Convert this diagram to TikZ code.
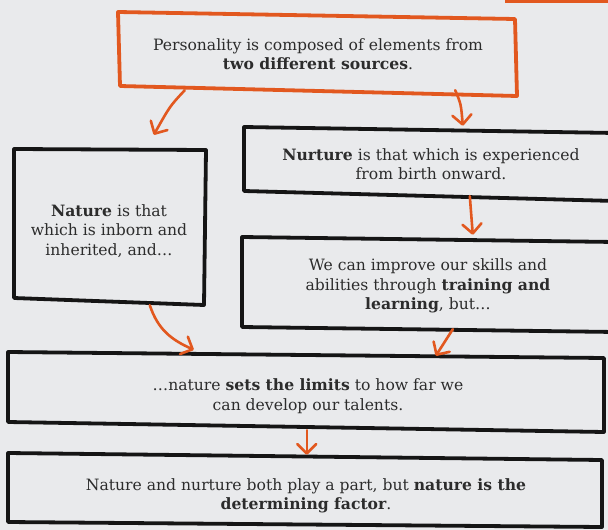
\documentclass[tikz,border=0pt]{standalone}
\usepackage{fontspec}
\setmainfont{DejaVu Serif}
\usetikzlibrary{arrows.meta,calc}
\definecolor{paper}{HTML}{E9EAEC}
\definecolor{orng}{HTML}{E2581F}
\definecolor{ink}{HTML}{151515}
\definecolor{txt}{HTML}{2C2C2C}
\begin{document}
\begin{tikzpicture}[x=1pt,y=-1pt,
  box/.style={draw=none,inner sep=0pt,align=center,text=txt,
    font=\fontsize{15.6}{19.5}\selectfont},
  hand/.style={draw=ink,line width=3.8pt,line join=round},
  handor/.style={draw=orng,line width=3.8pt,line join=round},
  arr/.style={draw=orng,line width=2.6pt,line cap=round,
    -{Straight Barb[length=9.5pt,width=19pt,line cap=round,line join=round]}}]
\fill[paper] (0,0) rectangle (608,530);
\useasboundingbox (0,0) rectangle (608,530);
\fill[orng] (505,0) rectangle (608,3);

% boxes (invisible nodes sized to the drawn frames)
\node[box,minimum width=400pt,minimum height=80pt] (b1) at (318,54)
  {Personality is composed of elements from\\\textbf{two different sources}.};
\node[box,minimum width=192pt,minimum height=154pt] (b2) at (109,231)
  {\textbf{Nature} is that\\which is inborn and\\inherited, and\dots};
\node[box,minimum width=370pt,minimum height=70pt] (b3) at (431,164)
  {\textbf{Nurture} is that which is experienced\\from birth onward.};
\node[box,minimum width=372pt,minimum height=92pt] (b4) at (428,286)
  {We can improve our skills and\\abilities through \textbf{training and}\\\textbf{learning}, but\dots};
\node[box,minimum width=596pt,minimum height=76pt] (b5) at (308,396)
  {\dots nature \textbf{sets the limits} to how far we\\can develop our talents.};
\node[box,minimum width=594pt,minimum height=72pt] (b6) at (306,496)
  {Nature and nurture both play a part, but \textbf{nature is the}\\\textbf{determining factor}.};

% hand-drawn frames
\draw[handor] (118,12) -- (515,19) -- (517,96) -- (120,86) -- cycle;
\draw[hand] (14,149) -- (206,150) -- (204,305) -- (14,298) -- cycle;
\draw[hand] (244,127) -- (615,133) -- (615,201) -- (244,191) -- cycle;
\draw[hand] (242,237) -- (615,242) -- (615,332) -- (242,327) -- cycle;
\draw[hand] (8,352) -- (604,358) -- (604,432) -- (8,422) -- cycle;
\draw[hand] (8,453) -- (602,460) -- (602,527) -- (8,522) -- cycle;

% arrow ends
\coordinate (e1) at ($(b2.north west)+(141,-19)$);
\coordinate (e2) at ($(b3.north west)+(217,-3)$);
\coordinate (e3) at ($(b4.north west)+(231,-5)$);
\coordinate (e4) at ($(b5.north west)+(184,-8)$);
\coordinate (e5) at ($(b5.north west)+(426,-2)$);
\coordinate (e6) at ($(b6.north west)+(298,-5)$);

\draw[arr] ($(b1.south west)+(67,-4)$) .. controls (170,106) .. (e1);
\draw[arr] ($(b1.south east)+(-63,-4)$) .. controls (461,104) .. (e2);
\draw[arr] ($(b3.south west)+(224,-3)$) -- (e3);
\draw[arr] ($(b2.south west)+(137,-3)$) .. controls (158,330) and (172,340) .. (e4);
\draw[arr] ($(b4.south west)+(211,-3)$) -- (e5);
\draw[arr] ($(b5.south west)+(297,-4)$) -- (e6);
\end{tikzpicture}
\end{document}
